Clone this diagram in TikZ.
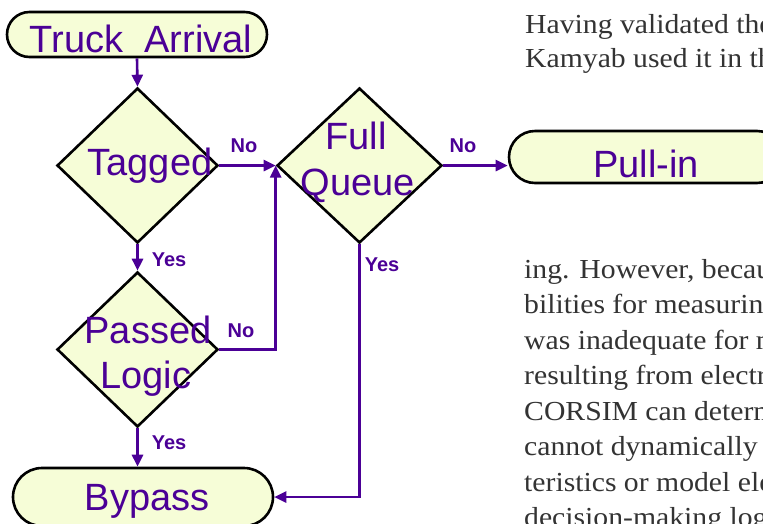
\documentclass[tikz,border=0pt]{standalone}
\usepackage{fontspec}
\setmainfont{Liberation Sans}
\newfontfamily\bookfont[FakeStretch=1.08]{Liberation Serif}
\usetikzlibrary{arrows.meta,shapes.geometric,shapes.misc}
\definecolor{flowpurple}{HTML}{4B0096}
\definecolor{flowfill}{HTML}{F6FDD7}
\definecolor{booktext}{HTML}{333333}
\begin{document}
\begin{tikzpicture}[x=1pt,y=-1pt,
  shapeline/.style={draw=black,line width=2.6pt,fill=flowfill},
  terminal/.style={shapeline,rounded rectangle,inner sep=0pt},
  decision/.style={shapeline,diamond,inner sep=0pt},
  bigtext/.style={text=flowpurple,font=\fontsize{38}{44}\selectfont,inner sep=0pt,anchor=base},
  answer/.style={text=flowpurple,font=\fontsize{20}{24}\selectfont\bfseries,inner sep=0pt,anchor=base},
  conn/.style={draw=flowpurple,line width=2.6pt,-{Triangle[length=12pt,width=11pt]}},
  booktxt/.style={text=booktext,font=\bookfont\fontsize{27.5}{33}\selectfont,inner sep=0pt,anchor=base west}
]
\useasboundingbox (0,0) rectangle (763,523);
\clip (0,0) rectangle (763,523);
\fill[white] (0,0) rectangle (763,523);

% book text fragments
\node[booktxt] (b1) at (525,33) {Having validated the};
\node[booktxt] (b2) at (525,67.5) {Kamyab used it in the};
\node[booktxt] (b3) at (524,278) {ing. However, because};
\node[booktxt] (b4) at (524,313.5) {bilities for measuring};
\node[booktxt] (b5) at (524,349) {was inadequate for m};
\node[booktxt] (b6) at (524,384.5) {resulting from electro};
\node[booktxt] (b7) at (524,420) {CORSIM can determi};
\node[booktxt] (b8) at (524,455.5) {cannot dynamically a};
\node[booktxt] (b9) at (524,491) {teristics or model ele};
\node[booktxt] (b10) at (524,526.5) {decision-making logi};

% shapes
\node[terminal,minimum width=260pt,minimum height=45pt] (ta) at (137,34.5) {};
\node[decision,minimum width=161pt,minimum height=155pt] (tag) at (137.5,165.5) {};
\node[decision,minimum width=165pt,minimum height=155pt] (fq) at (359.5,165.5) {};
\node[decision,minimum width=161pt,minimum height=155pt] (pl) at (137.5,349.5) {};
\node[terminal,minimum width=274pt,minimum height=52pt] (pull) at (646,157) {};
\node[terminal,minimum width=260pt,minimum height=58pt] (by) at (143,497) {};

% shape texts
\node[bigtext] (tTA) at (141,52) {Truck\hspace{0.56em}Arrival};
\node[bigtext] (tTag) at (150,175) {Tagged};
\node[bigtext] (tFull) at (356,149) {Full};
\node[bigtext] (tQueue) at (358,195) {Queue};
\node[bigtext] (tPassed) at (148,343) {Passed};
\node[bigtext] (tLogic) at (146,388) {Logic};
\node[bigtext] (tPull) at (646,177) {Pull-in};
\node[bigtext] (tBy) at (147,510) {Bypass};

% connectors
\draw[conn] (ta.south) -- (tag.north);
\draw[conn] (tag.east) -- (fq.west);
\draw[conn] (pl.east) -| (fq.west);
\draw[conn] (tag.south) -- (pl.north);
\draw[conn] (pl.south) -- (pl.south |- by.north);
\draw[conn] (fq.east) -- (fq.east -| pull.west);
\draw[conn] (fq.south) |- (by.east);

% answer labels
\node[answer] (n1) at (244,152) {No};
\node[answer] (y1) at (169,266) {Yes};
\node[answer] (n2) at (241,337) {No};
\node[answer] (y2) at (169,449) {Yes};
\node[answer] (y3) at (382,271) {Yes};
\node[answer] (n3) at (463,152) {No};
\end{tikzpicture}
\end{document}
